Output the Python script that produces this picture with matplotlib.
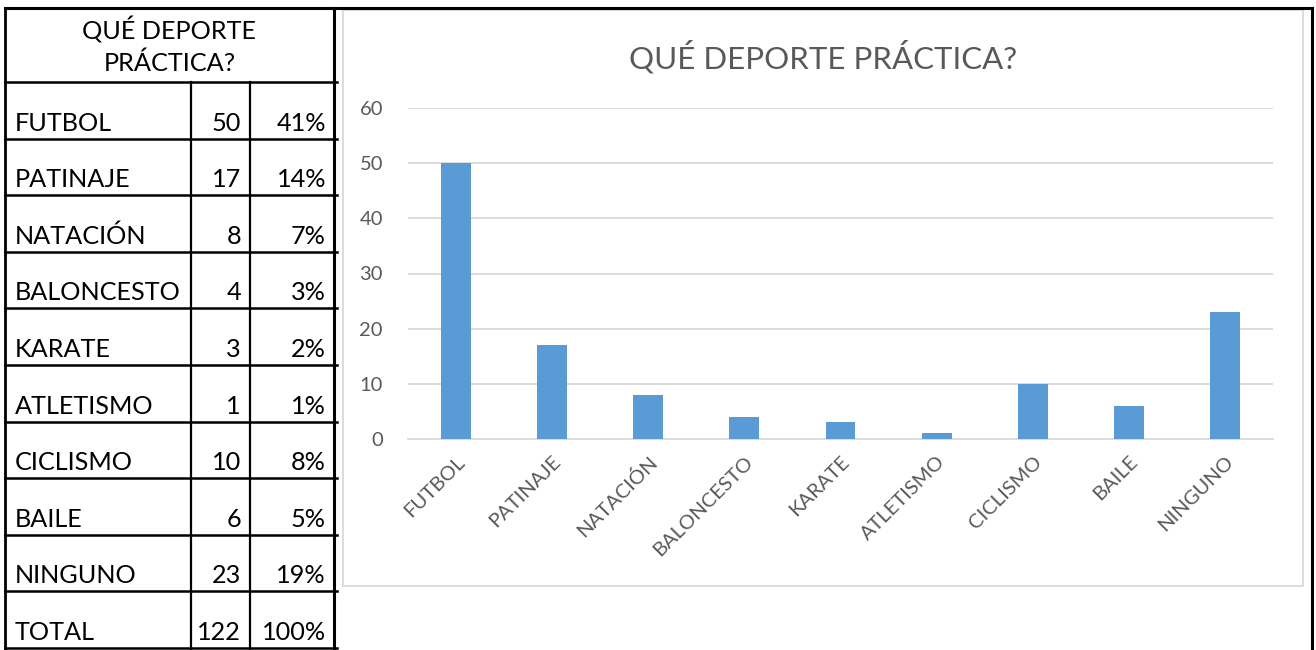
import matplotlib
matplotlib.use("Agg")
import matplotlib.pyplot as plt
from matplotlib.lines import Line2D

categories = ["FUTBOL", "PATINAJE", "NATACIÓN", "BALONCESTO", "KARATE",
              "ATLETISMO", "CICLISMO", "BAILE", "NINGUNO"]
counts = [50, 17, 8, 4, 3, 1, 10, 6, 23]
percents = ["41%", "14%", "7%", "3%", "2%", "1%", "8%", "5%", "19%"]
total_label = "TOTAL"
total_count = 122
total_pct = "100%"
title = "QUÉ DEPORTE PRÁCTICA?"
yticks = [0, 10, 20, 30, 40, 50, 60]

W, H = 1316, 650
fig = plt.figure(figsize=(W / 100, H / 100), dpi=100)
plt.rcParams['font.family'] = ['Lato', 'DejaVu Sans']

# overlay axes in pixel coordinates
bg = fig.add_axes([0, 0, 1, 1])
bg.set_xlim(0, W)
bg.set_ylim(H, 0)
bg.axis("off")

def ln(x0, y0, x1, y1, lw=2.0, c="black", z=5):
    bg.add_line(Line2D([x0, x1], [y0, y1], lw=lw, color=c, zorder=z,
                       solid_capstyle="projecting"))

# chart box
bg.add_patch(plt.Rectangle((343, 10), 1303 - 343, 586 - 10, fill=False,
                           ec="#D9D9D9", lw=1.3, zorder=2))

# table geometry
tx0, tx1, tx2, tx3 = 5, 191, 250, 334
ty_top, ty_head = 8, 82
row_h = 56.6
nrows = len(categories) + 1
row_lines = [ty_head + i * row_h for i in range(nrows + 1)]

# outer frame lines
ln(tx0, ty_top, 1312, ty_top, lw=2.2)
ln(1312, ty_top, 1312, H + 5, lw=2.2)
ln(tx0, ty_top, tx0, H + 5, lw=2.0)
ln(tx3, ty_top, tx3, H + 5, lw=2.2)
for y in row_lines:
    ln(tx0, y, tx3 + 3, y, lw=1.8)
ln(tx1, ty_head, tx1, H + 5, lw=1.6)
ln(tx2, ty_head, tx2, H + 5, lw=1.6)

tfs = 18.2
bg.text((tx0 + tx3) / 2, 30, "QUÉ DEPORTE", ha="center", va="center",
        fontsize=tfs, color="black")
bg.text((tx0 + tx3) / 2, 63, "PRÁCTICA?", ha="center", va="center",
        fontsize=tfs, color="black")

rows = list(zip(categories, [str(c) for c in counts], percents))
rows.append((total_label, str(total_count), total_pct))
for i, (name, cnt, pct) in enumerate(rows):
    yb = row_lines[i + 1] - 8
    bg.text(tx0 + 10, yb, name, ha="left", va="baseline", fontsize=tfs)
    bg.text(tx2 - 9, yb, cnt, ha="right", va="baseline", fontsize=tfs)
    bg.text(tx3 - 8, yb, pct, ha="right", va="baseline", fontsize=tfs)

# chart axes
pl, pr, pt, pb = 408, 1273, 108, 439
ax = fig.add_axes([pl / W, (H - pb) / H, (pr - pl) / W, (pb - pt) / H])
x = list(range(len(categories)))
ax.bar(x, counts, width=0.31, color="#5B9BD5", zorder=3)
ax.set_xlim(-0.5, len(categories) - 0.5)
ax.set_ylim(0, 60)
ax.set_yticks(yticks)
ax.yaxis.grid(True, color="#D9D9D9", lw=1.3)
ax.set_axisbelow(True)
for s in ["top", "right", "left"]:
    ax.spines[s].set_visible(False)
ax.spines["bottom"].set_color("#D9D9D9")
ax.spines["bottom"].set_linewidth(1.3)
ax.tick_params(axis="y", length=0, colors="#595959", labelsize=14.5, pad=18)
ax.set_xticks(x)
ax.set_xticklabels(categories, rotation=45, ha="right", rotation_mode="anchor")
ax.tick_params(axis="x", length=0, colors="#595959", labelsize=14.5, pad=10)
ax.patch.set_alpha(0)

fig.text(823 / W, 1 - 57 / H, title, ha="center", va="center",
         fontsize=22.5, color="#595959")

fig.savefig("out.png", dpi=100)
